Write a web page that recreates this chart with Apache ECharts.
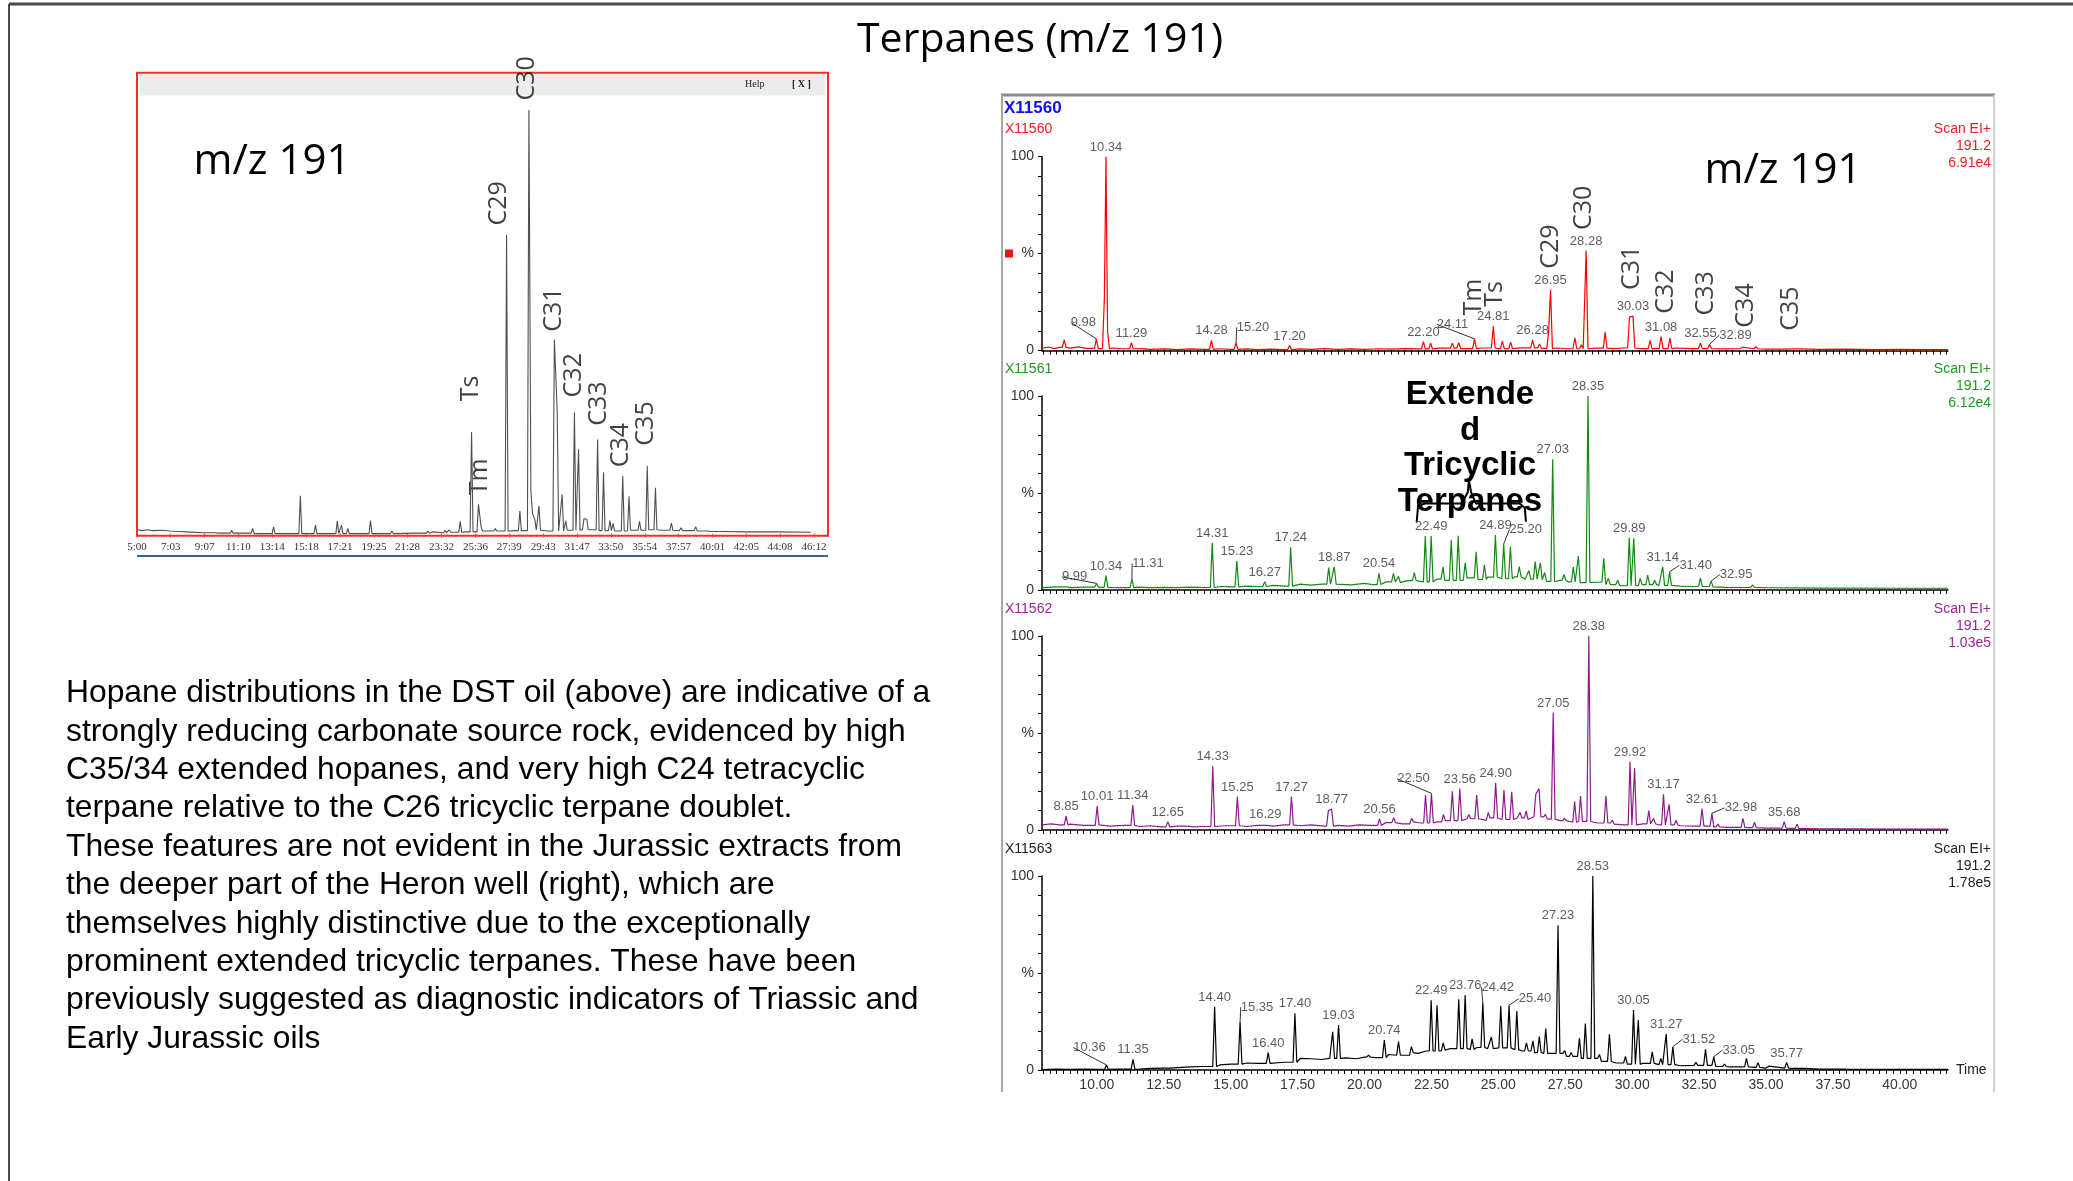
<!DOCTYPE html>
<html>
<head>
<meta charset="utf-8">
<script src="https://cdn.jsdelivr.net/npm/echarts@6/dist/echarts.min.js"></script>
<style>
  html, body { margin: 0; padding: 0; background: #fff; }
  #chart { width: 2073px; height: 1181px; }
</style>
</head>
<body>
<div id="chart"></div>
<script>
// ---------- DST oil chromatogram (m/z 191), time in minutes, height in % of C30 ----------
const LEFT_TICK_LABELS = ['5:00','7:03','9:07','11:10','13:14','15:18','17:21','19:25','21:28','23:32','25:36',
  '27:39','29:43','31:47','33:50','35:54','37:57','40:01','42:05','44:08','46:12'];
const LEFT_BASE = [[5.0,0.9],[5.3,0.7],[5.6,0.9],[6.0,0.7],[6.5,0.8],[7.0,0.6],[7.5,0.5],[8.0,0.4],[9.0,0.2],
  [10,0.1],[12,0],[14,0],[16,0],[18,0],[20,0],[22,0.1],[23,0.2],[24,0.3],[25,0.4],[26,0.6],[27,0.6],[28,0.7],
  [29,0.8],[30,0.6],[31,0.8],[32,0.9],[33,0.7],[34,0.6],[35,0.8],[36,0.9],[37,0.8],[38,0.7],[39,0.6],[40,0.5],
  [42,0.4],[44,0.4],[46,0.3]];
const LEFT_PEAKS = [[9.63,0.3],[10.76,0.8],[12.04,1.2],[13.31,1.6],[14.94,8.9],[15.86,2.0],[17.19,3.0],[17.44,2.0],
  [17.83,1.2],[19.21,3.1],[20.51,0.6],[22.7,0.6],[22.98,0.4],[23.75,0.8],[24.0,0.9],[24.67,2.9],[25.36,24],
  [25.78,6.9],[25.94,1.6],[26.8,1.2],[27.49,70.5],[28.3,5.3],[28.85,100],[28.97,10],[29.07,4.7],[29.21,3.3],
  [29.46,6.5],[30.4,45.8],[30.57,28.9],[30.87,9.3],[31.09,3.0],[31.62,28.6],[31.87,19.9],[32.2,3.5],[32.37,3.4],
  [33.03,22.2],[33.39,14.5],[33.78,3.1],[33.97,2.4],[34.56,13.6],[34.94,8.8],[35.58,2.9],[36.05,16],[36.55,10.8],
  [37.52,2.5],[38.1,1.4],[39.0,1.6],[39.6,0.9],[40.46,0.8]];
const LEFT_NAMES = [['Ts',25.33,34.3],['Tm',25.89,13.4],['C29',27.05,78],['C30',28.71,107.5],['C31',30.37,52.9],
  ['C32',31.56,37.4],['C33',33.09,30.7],['C34',34.47,20.9],['C35',35.99,26]];

// ---------- Heron well extracts, time in minutes, height in % ----------
const TIME_LABELS = ['10.00','12.50','15.00','17.50','20.00','22.50','25.00','27.50','30.00','32.50','35.00','37.50','40.00'];
const SAMPLE_IDS = ['X11560','X11561','X11562','X11563'];
const SCAN_MODE = 'Scan EI+';
const SCAN_MASS = '191.2';
const INTENSITIES = ['6.91e4','6.12e4','1.03e5','1.78e5'];

const BASE_1 = [[7.95,1.2],[8.2,1.8],[8.4,1.0],[8.6,1.6],[9.0,1.2],[9.3,1.9],[9.6,1.1],[10.0,1.0],[10.6,1.3],[11,0.9],
  [11.6,1.0],[12,0.6],[12.5,0.8],[13,0.5],[13.5,0.8],[14,0.6],[14.6,0.9],[15,0.6],[15.6,0.8],[16,0.5],[16.5,0.7],
  [17,0.5],[17.6,0.8],[18,0.6],[18.5,1.0],[19,0.6],[19.5,0.8],[20,0.6],[20.5,0.9],[21,0.7],[21.5,1.0],[22,0.8],
  [22.8,1.2],[23.5,1.0],[24.4,1.3],[25,1.0],[25.8,1.4],[26.5,1.1],[27.2,1.3],[27.6,0.9],[28.6,1.2],[29.3,1.0],
  [29.7,1.3],[30.3,1.0],[31.6,1.3],[32.2,1.0],[33,1.1],[33.5,0.8],[34,0.9],[35,0.7],[36,0.8],[37,0.6],[38,0.7],
  [39,0.5],[40,0.6],[41,0.5],[41.8,0.5]];
const PEAKS_1 = [[8.78,5.5],[9.98,6.0],[10.28,27],[10.34,100],[10.40,10],[11.29,4],[14.28,5.2],[15.20,4],[17.20,2.6],
  [22.20,4.6],[22.47,3.8],[23.28,3.8],[23.52,4],[24.11,6],[24.81,12.5],[25.15,4.8],[25.46,4.3],[26.28,5.5],
  [26.54,3.4],[26.88,10],[26.95,31.3],[27.86,6.5],[28.1,3],[28.28,51.5],[28.99,9.5],[29.9,17.2],[30.03,17.7],
  [30.67,5.2],[31.08,7.2],[31.41,6.4],[32.55,3.8],[32.89,3.1],[34.14,1.7],[34.62,2.0],[35.7,1.4],[36.23,1.7]];
const LABELS_1 = [9.98,10.34,11.29,14.28,15.20,17.20,22.20,24.11,24.81,26.28,26.95,28.28,30.03,31.08,32.55,32.89];
const NUDGE_1 = [[9.98,-13,-7],[15.20,17,-6],[24.11,-22,-5],[32.89,26,0]];
const NAMES_1 = [['Tm',24.07,27.5],['Ts',24.86,29.2],['C29',26.95,53.6],['C30',28.2,73.5],['C31',30.0,42.6],
  ['C32',31.27,30.4],['C33',32.77,29.5],['C34',34.25,23.2],['C35',35.94,21.6]];

const BASE_2 = [[7.95,1.2],[8.5,1.6],[9,1.2],[9.5,1.5],[10,1.4],[11,1.2],[11.5,1.5],[12,1.2],[12.5,1.4],[13,1.2],
  [13.5,1.5],[14,1.3],[14.6,1.8],[15,1.6],[15.6,2.0],[16,1.8],[16.6,2.4],[17,2.0],[17.6,3.0],[18,2.5],[18.4,3.0],
  [19,3.2],[19.5,2.6],[20,3.4],[20.3,2.8],[20.8,4.2],[21.2,3.8],[21.6,4.8],[22,4.2],[22.7,5.6],[23,5.0],[23.8,6.2],
  [24.2,5.4],[24.6,6.6],[25,5.8],[25.6,6.8],[26,5.6],[26.5,5.2],[26.8,4.4],[27.3,5.0],[27.6,4.2],[28,3.8],
  [28.6,4.0],[29,2.8],[29.4,2.4],[29.7,2.2],[30.3,2.8],[31,2.4],[31.8,2.0],[32.3,1.8],[33,1.6],[33.5,1.4],[34,1.3],
  [35,1.2],[36,1.1],[37,1.0],[38,1.0],[40,0.9],[41.8,0.9]];
const PEAKS_2 = [[8.8,2.2],[9.99,3.4],[10.34,7.4],[11.31,5.7],[14.31,24.4],[15.23,15],[16.27,4.3],[17.24,22],
  [18.66,11.5],[18.87,12],[20.54,8.6],[21.08,8.6],[21.27,7],[21.86,9],[22.27,27.8],[22.49,27.8],[22.93,12],
  [23.24,25.7],[23.5,28],[23.76,14],[24.17,19.7],[24.48,13],[24.89,28.3],[25.20,23.7],[25.45,22.3],[25.78,12],
  [26.14,10],[26.38,14.6],[26.57,14],[26.73,9],[27.03,67.4],[27.45,8],[27.8,12],[27.99,17.5],[28.35,100],
  [28.94,16.3],[29.11,6],[29.46,5],[29.89,27],[30.06,26.6],[30.3,6],[30.58,7.7],[30.84,5],[31.14,12],[31.40,9.4],
  [32.55,6.3],[32.95,4.6],[34.5,2.6]];
const LABELS_2 = [9.99,10.34,11.31,14.31,15.23,16.27,17.24,18.87,20.54,22.49,24.89,25.20,27.03,28.35,29.89,31.14,31.40,32.95];
const NUDGE_2 = [[9.99,-22,3],[11.31,16,-6],[25.20,22,-5],[31.40,26,3],[32.95,25,3]];
// bracket over the extended tricyclic terpane cluster
const BRACE_2 = [[21.95,35.2],[22.0,43.3],[22.26,44.6],[23.64,44.6],[23.86,50.5],[23.9,56.7],[23.98,50.5],
  [24.16,44.6],[25.8,44.6],[25.99,42.3],[26.03,35.2]];

const BASE_3 = [[7.95,2.6],[8.3,3.2],[8.6,2.6],[9,3.0],[9.5,2.4],[10,2.6],[10.5,2.0],[11,2.4],[11.6,1.8],[12,2.2],
  [12.4,1.6],[13,2.0],[13.6,1.6],[14,1.8],[14.8,2.2],[15.6,1.8],[16,2.4],[16.6,2.0],[17,2.6],[17.6,2.2],[18,2.6],
  [18.5,2.0],[19,2.4],[19.4,2.0],[19.8,2.6],[20.2,2.4],[20.8,3.8],[21.4,3.2],[21.8,4.2],[22.1,3.6],[22.7,4.2],
  [23,4.8],[23.8,5.8],[24.3,5.0],[24.6,6.2],[25,5.4],[25.7,6.2],[26,5.4],[26.3,6.8],[26.8,5.6],[27.3,4.8],
  [27.6,4.0],[28,4.4],[28.7,3.6],[29.3,3.0],[29.7,2.6],[30.4,3.2],[31,2.6],[31.8,2.2],[32.3,2.0],[33,1.6],
  [33.6,1.4],[34.4,1.2],[35,1.0],[36,0.8],[37,0.6],[38,0.6],[40,0.5],[41.8,0.5]];
const PEAKS_3 = [[8.85,7.2],[10.01,12.3],[11.34,12.9],[12.65,4.3],[13.33,3],[14.33,33],[15.25,17.2],[16.29,3.3],
  [17.27,17.2],[18.65,10],[18.77,10.8],[20.56,5.7],[21.09,6.3],[21.76,6],[22.28,18],[22.50,18.9],[22.95,8],
  [23.28,20],[23.56,21.4],[23.9,8],[24.19,18],[24.62,9],[24.90,24.4],[25.21,20.6],[25.5,19.7],[25.81,9],
  [26.04,9.8],[26.4,18.5],[26.52,21.4],[26.76,8],[27.05,60.5],[27.47,6],[27.85,14.6],[28.07,17.5],[28.38,100],
  [29.02,17.5],[29.26,5],[29.92,35.2],[30.09,32],[30.62,10],[30.8,6],[31.17,18.4],[31.38,13.2],[31.64,5],
  [32.61,11.1],[32.98,8.6],[33.2,3],[34.14,6],[34.57,4],[35.68,4.3],[36.16,2.9]];
const LABELS_3 = [8.85,10.01,11.34,12.65,14.33,15.25,16.29,17.27,18.77,20.56,22.50,23.56,24.90,27.05,28.38,29.92,31.17,32.61,32.98,35.68];
const NUDGE_3 = [[22.50,-18,-5],[32.98,29,4]];

const BASE_4 = [[7.95,0.2],[8.5,0.4],[9,0.3],[9.5,0.5],[10,0.3],[10.8,0.5],[11.5,0.4],[12,0.8],[12.5,1.0],[13,1.2],
  [13.5,1.6],[14,1.8],[14.6,2.6],[15,3.0],[15.6,3.6],[16,3.4],[16.5,4.2],[17,4.0],[17.6,6.0],[18,5.8],[18.4,5.4],
  [18.7,6.0],[19.3,6.2],[19.7,5.8],[20,6.6],[20.4,6.4],[20.9,8.0],[21.2,7.6],[21.7,9.0],[22,8.6],[22.3,9.8],
  [22.9,10.2],[23.2,11],[23.9,10.6],[24.2,11.6],[24.6,11.0],[25,11.4],[25.5,10.4],[25.9,9.8],[26.3,9.0],
  [26.7,8.6],[27.5,7.0],[28,6.0],[28.8,4.4],[29.4,3.6],[29.7,3.0],[30.4,3.4],[31,2.8],[31.8,2.2],[32.3,2.4],
  [33,1.8],[33.6,1.6],[34.4,1.4],[35,1.0],[36,0.8],[37,0.5],[38,0.4],[40,0.3],[41.8,0.3]];
const PEAKS_4 = [[10.36,2.6],[11.35,5.5],[12.67,1.8],[14.40,32.6],[15.35,24.9],[16.40,9],[17.40,29.2],[18.81,19.7],
  [19.03,23.2],[20.15,7.7],[20.74,15.4],[21.27,14.6],[21.75,12],[22.49,36],[22.71,33.4],[22.94,14],[23.52,36.5],
  [23.76,38.6],[24.02,16],[24.42,34.6],[24.74,17],[25.09,33],[25.40,33.4],[25.69,30.4],[26.05,14],[26.29,15],
  [26.53,17.2],[26.77,21.4],[27.23,74.6],[27.48,10],[27.72,9],[28.03,16.3],[28.25,24],[28.53,100],[28.78,8],
  [29.15,18.4],[29.75,7],[30.05,30.9],[30.23,25.7],[30.75,9.4],[31.07,6],[31.27,18.7],[31.52,12],[32.38,4],
  [32.74,10.6],[33.05,6.9],[33.45,3],[34.27,6],[34.7,3.8],[35.12,2],[35.77,3.9],[36.37,1.8]];
const LABELS_4 = [10.36,11.35,14.40,15.35,16.40,17.40,19.03,20.74,22.49,23.76,24.42,25.40,27.23,28.53,30.05,31.27,31.52,33.05,35.77];
const NUDGE_4 = [[10.36,-17,-8],[15.35,17,-5],[24.42,15,-6],[25.40,26,3],[31.52,26,2],[33.05,25,3]];

const PARAGRAPH = [
  'Hopane distributions in the DST oil (above) are indicative of a',
  'strongly reducing carbonate source rock, evidenced by high',
  'C35/34 extended hopanes, and very high C24 tetracyclic',
  'terpane relative to the C26 tricyclic terpane doublet.',
  'These features are not evident in the Jurassic extracts from',
  'the deeper part of the Heron well (right), which are',
  'themselves highly distinctive due to the exceptionally',
  'prominent extended tricyclic terpanes. These have been',
  'previously suggested as diagnostic indicators of Triassic and',
  'Early Jurassic oils'
];

// ---------- helpers ----------
const toMinutes = s => { const p = s.split(':'); return Number(p[0]) + Number(p[1]) / 60; };

// Trace built from baseline anchors plus narrow peaks; peak feet sit on the preceding baseline level.
function buildTrace(base, peaks, hw) {
  const baseAt = t => { let v = base[0][1]; for (const b of base) { if (b[0] <= t) v = b[1]; else break; } return v; };
  const nearPeak = (t, tol) => peaks.some(p => Math.abs(t - p[0]) < tol);
  const pts = [];
  base.forEach(b => { if (!nearPeak(b[0], hw * 1.5)) pts.push([b[0], b[1]]); });
  peaks.forEach(p => {
    [p[0] - hw, p[0] + hw].forEach(f => { if (!nearPeak(f, hw - 1e-6)) pts.push([f, baseAt(f)]); });
    pts.push([p[0], p[1]]);
  });
  pts.sort((a, b) => a[0] - b[0]);
  return pts;
}

const leftTickVals = LEFT_TICK_LABELS.map(toMinutes);
const timeLabelVals = TIME_LABELS.map(Number);
const minorTicks = [];
for (let t = 8; t <= 41.76; t += 0.25) minorTicks.push(Math.round(t * 100) / 100);
const yTicks = [0,10,20,30,40,50,60,70,80,90,100];
const Y_LABELS = { 0: '0', 50: '%', 100: '100' };

const TRACE_COLORS = ['#ff0000', '#138a13', '#8e1a8e', '#000000'];
const TEXT_COLORS = ['#ee1c1c', '#1f9a1f', '#9a249a', '#222222'];
const BASES = [BASE_1, BASE_2, BASE_3, BASE_4];
const PEAKS = [PEAKS_1, PEAKS_2, PEAKS_3, PEAKS_4];
const LABELS = [LABELS_1, LABELS_2, LABELS_3, LABELS_4];
const NUDGES = [NUDGE_1, NUDGE_2, NUDGE_3, NUDGE_4];
const PANEL_TOPS = [156.5, 396, 636, 876];
const PANEL_H = 194;

// ---------- option ----------
const grids = [{ left: 137, top: 95.3, width: 691, height: 440.4 }];
const xAxes = [{
  gridIndex: 0, type: 'value', min: 5, max: 47.05,
  axisLine: { show: false }, splitLine: { show: false },
  axisTick: { show: true, customValues: leftTickVals, length: 4, lineStyle: { color: '#ff4040', width: 1 } },
  axisLabel: {
    customValues: leftTickVals, margin: 6, fontFamily: '"Liberation Serif", serif', fontSize: 11, color: '#333',
    formatter: v => { const i = leftTickVals.findIndex(x => Math.abs(x - v) < 1e-6); return i >= 0 ? LEFT_TICK_LABELS[i] : ''; }
  }
}];
const yAxes = [{ gridIndex: 0, type: 'value', min: -0.5, max: 103.5, show: false }];
const series = [
  {
    type: 'line', xAxisIndex: 0, yAxisIndex: 0, data: buildTrace(LEFT_BASE, LEFT_PEAKS, 0.09),
    showSymbol: false, symbol: 'none', lineStyle: { color: '#505050', width: 1.1 }, silent: true
  },
  {
    type: 'scatter', xAxisIndex: 0, yAxisIndex: 0, symbolSize: 0, clip: false, silent: true,
    data: LEFT_NAMES.map(n => ({ name: n[0], value: [n[1], n[2]] })),
    label: { show: true, position: 'inside', rotate: 90, formatter: '{b}', fontFamily: '"Open Sans", sans-serif', fontSize: 25, color: '#111' }
  }
];

for (let i = 0; i < 4; i++) {
  const g = i + 1;
  const last = i === 3;
  grids.push({ left: 1042, top: PANEL_TOPS[i], width: 906, height: PANEL_H });
  xAxes.push({
    gridIndex: g, type: 'value', min: 7.95, max: 41.8,
    axisLine: { show: true, lineStyle: { color: '#000', width: 1.5 } },
    splitLine: { show: false },
    axisTick: { show: true, customValues: minorTicks, length: 4, lineStyle: { color: '#000', width: 1 } },
    axisLabel: {
      show: last, customValues: timeLabelVals, margin: 8, fontFamily: '"Liberation Sans", Arial, sans-serif',
      fontSize: 14, color: '#333344', formatter: v => v.toFixed(2)
    },
    name: last ? 'Time' : '', nameLocation: 'end', nameGap: 8,
    nameTextStyle: { fontFamily: '"Liberation Sans", Arial, sans-serif', fontSize: 14, color: '#222' }
  });
  yAxes.push({
    gridIndex: g, type: 'value', min: 0, max: 100,
    axisLine: { show: true, lineStyle: { color: '#000', width: 1.5 } },
    splitLine: { show: false },
    axisTick: { show: true, customValues: yTicks, length: 4, lineStyle: { color: '#000', width: 1 } },
    axisLabel: {
      customValues: [0, 50, 100], margin: 8, fontFamily: '"Liberation Sans", Arial, sans-serif',
      fontSize: 14, color: '#333', formatter: v => Y_LABELS[v] || ''
    }
  });
  series.push({
    type: 'line', xAxisIndex: g, yAxisIndex: g, data: buildTrace(BASES[i], PEAKS[i], 0.07),
    showSymbol: false, symbol: 'none', lineStyle: { color: TRACE_COLORS[i], width: 1.2 }, silent: true
  });
  const nudge = NUDGES[i];
  const labelled = PEAKS[i].filter(p => LABELS[i].some(t => Math.abs(t - p[0]) < 1e-6));
  series.push({
    type: 'scatter', xAxisIndex: g, yAxisIndex: g, symbolSize: 0, clip: false, silent: true, z: 5,
    data: labelled.map(p => {
      const moved = nudge.some(n => Math.abs(n[0] - p[0]) < 1e-6);
      return { value: [p[0], p[1]], labelLine: { show: moved, lineStyle: { color: '#333', width: 1 } } };
    }),
    label: {
      show: true, position: 'top', distance: 3, fontFamily: '"Liberation Sans", Arial, sans-serif', fontSize: 13,
      color: '#333', formatter: p => p.value[0].toFixed(2)
    },
    labelLayout: params => {
      const p = labelled[params.dataIndex];
      const n = p && nudge.find(q => Math.abs(q[0] - p[0]) < 1e-6);
      return n ? { dx: n[1], dy: n[2] } : {};
    }
  });
}
// compound names over the first extract
series.push({
  type: 'scatter', xAxisIndex: 1, yAxisIndex: 1, symbolSize: 0, clip: false, silent: true, z: 6,
  data: NAMES_1.map(n => ({ name: n[0], value: [n[1], n[2]] })),
  label: { show: true, position: 'inside', rotate: 90, formatter: '{b}', fontFamily: '"Open Sans", sans-serif', fontSize: 25, color: '#111' }
});
// bracket over the extended tricyclic terpanes
series.push({
  type: 'line', xAxisIndex: 2, yAxisIndex: 2, data: BRACE_2, showSymbol: false, symbol: 'none', clip: false,
  silent: true, z: 6, lineStyle: { color: '#000', width: 2 }
});

// ---------- frames and text ----------
const graphic = [
  { type: 'line', shape: { x1: 9, y1: 4, x2: 2073, y2: 4 }, style: { stroke: '#4a4a4a', lineWidth: 3 } },
  { type: 'line', shape: { x1: 9, y1: 4, x2: 9, y2: 1181 }, style: { stroke: '#4a4a4a', lineWidth: 2 } },
  { type: 'text', x: 1040, y: 40, style: { text: 'Terpanes (m/z 191)', font: '41px "Open Sans", sans-serif', fill: '#000', align: 'center', verticalAlign: 'middle' } },

  // left window
  { type: 'rect', shape: { x: 140, y: 74.4, width: 685, height: 21 }, style: { fill: '#ececec' }, z: -1 },
  { type: 'rect', shape: { x: 137, y: 72.7, width: 691, height: 463 }, style: { fill: 'none', stroke: '#ff2a2a', lineWidth: 2 } },
  { type: 'text', x: 745, y: 84.5, style: { text: 'Help', font: '10px "Liberation Serif", serif', fill: '#222', verticalAlign: 'middle' } },
  { type: 'text', x: 792, y: 84.5, style: { text: '[ X ]', font: 'bold 10px "Liberation Serif", serif', fill: '#222', verticalAlign: 'middle' } },
  { type: 'line', shape: { x1: 137, y1: 556, x2: 828, y2: 556 }, style: { stroke: '#3d5f9e', lineWidth: 2 } },
  { type: 'text', x: 272, y: 162, style: { text: 'm/z 191', font: '42px "Open Sans", sans-serif', fill: '#000', align: 'center', verticalAlign: 'middle' } },

  // paragraph
  { type: 'text', x: 66, y: 674.5, style: { text: PARAGRAPH.join('\n'), font: '31.8px "Liberation Sans", Arial, sans-serif', lineHeight: 38.35, fill: '#000', verticalAlign: 'top' } },

  // right window frame
  { type: 'line', shape: { x1: 1001, y1: 95, x2: 1995, y2: 95 }, style: { stroke: '#8a8a8a', lineWidth: 3 } },
  { type: 'line', shape: { x1: 1002, y1: 95, x2: 1002, y2: 1092 }, style: { stroke: '#a8a8a8', lineWidth: 2 } },
  { type: 'line', shape: { x1: 1994, y1: 95, x2: 1994, y2: 1092 }, style: { stroke: '#d0d0d0', lineWidth: 2 } },
  { type: 'text', x: 1004, y: 108.5, style: { text: SAMPLE_IDS[0], font: 'bold 17px "Liberation Sans", Arial, sans-serif', fill: '#1010ee', verticalAlign: 'middle' } },
  { type: 'rect', shape: { x: 1005, y: 249.5, width: 8, height: 8 }, style: { fill: '#ee1111' } },
  { type: 'text', x: 1783, y: 171, style: { text: 'm/z 191', font: '42px "Open Sans", sans-serif', fill: '#000', align: 'center', verticalAlign: 'middle' } },
  { type: 'text', x: 1470, y: 377, z: 10, style: { text: 'Extende\nd\nTricyclic\nTerpanes', font: 'bold 33px "Liberation Sans", Arial, sans-serif', lineHeight: 35.7, fill: '#000', align: 'center', verticalAlign: 'top' } }
];
const HEADER_TOPS = [129, 369, 609, 849];
for (let i = 0; i < 4; i++) {
  const y = HEADER_TOPS[i];
  const f = '14px "Liberation Sans", Arial, sans-serif';
  graphic.push({ type: 'text', x: 1005, y: y, style: { text: SAMPLE_IDS[i], font: f, fill: TEXT_COLORS[i], verticalAlign: 'middle' } });
  graphic.push({ type: 'text', x: 1991, y: y, style: { text: SCAN_MODE, font: f, fill: TEXT_COLORS[i], align: 'right', verticalAlign: 'middle' } });
  graphic.push({ type: 'text', x: 1991, y: y + 17, style: { text: SCAN_MASS, font: f, fill: TEXT_COLORS[i], align: 'right', verticalAlign: 'middle' } });
  graphic.push({ type: 'text', x: 1991, y: y + 34, style: { text: INTENSITIES[i], font: f, fill: TEXT_COLORS[i], align: 'right', verticalAlign: 'middle' } });
}

const chart = echarts.init(document.getElementById('chart'), null, { renderer: 'canvas' });
chart.setOption({
  backgroundColor: '#ffffff',
  animation: false,
  grid: grids,
  xAxis: xAxes,
  yAxis: yAxes,
  series: series,
  graphic: graphic
});
</script>
</body>
</html>
